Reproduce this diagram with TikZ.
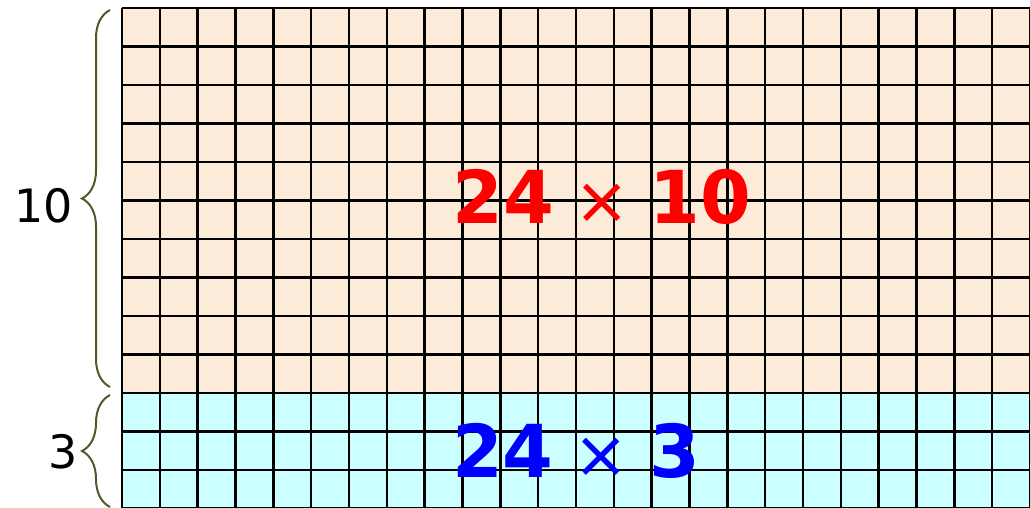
\documentclass[tikz,border=0pt]{standalone}
\usepackage{fontspec}
\setmainfont{DejaVu Sans}
\usetikzlibrary{decorations.pathreplacing}
\definecolor{peach}{RGB}{253,235,218}
\definecolor{icyblue}{RGB}{204,255,255}
\definecolor{olivebrace}{RGB}{80,90,40}
\newcommand{\timesgap}{\hspace{20pt}{\mdseries\fontsize{66}{66}\selectfont ×}\hspace{20pt}}
\begin{document}
\begin{tikzpicture}[
    x=1pt, y=1pt,
    region/.style={draw=none, inner sep=0pt, minimum width=908pt, anchor=south west},
    gridline/.style={black, line width=2.5pt},
    bracepath/.style={olivebrace, line width=2pt,
                      decorate, decoration={brace, amplitude=28pt}},
    countlbl/.style={inner sep=0pt, font=\fontsize{46}{46}\selectfont},
    prodlbl/.style={inner sep=0pt, font=\fontsize{73}{73}\selectfont\bfseries},
]
\useasboundingbox (0,0) rectangle (1030,508);

% Two coloured blocks: 10 rows on top, 3 rows below
\node[region, fill=peach, minimum height=385pt] (upper) at (122,115) {};
\node[region, fill=icyblue, minimum height=115.5pt] (lower) at (122,-0.5) {};

% Grid of 24 x 13 squares
\foreach \i in {0,...,24}
    \draw[gridline] (122+37.833*\i, -0.5) -- (122+37.833*\i, 500);
\foreach \j in {0,...,13}
    \draw[gridline] (122, 500-38.5*\j) -- (1030, 500-38.5*\j);

% Products
\node[prodlbl, text=red] (prodten) at (602,311.5) {24\timesgap 10};
\node[prodlbl, text=blue] (prodthree) at (576,57) {24\timesgap 3};

% Braces with row counts
\coordinate (tenlow) at (110,121);
\coordinate (tenhigh) at (110,498);
\coordinate (threelow) at (110,1);
\coordinate (threehigh) at (110,113);
\draw[bracepath] (tenlow) -- (tenhigh);
\draw[bracepath] (threelow) -- (threehigh);
\node[countlbl] (ten) at (43.5,302.5) {10};
\node[countlbl] (three) at (63.5,56.5) {3};
\end{tikzpicture}
\end{document}
